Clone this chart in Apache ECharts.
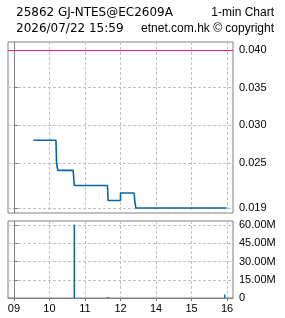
<!DOCTYPE html>
<html>
<head>
<meta charset="utf-8">
<script src="https://cdn.jsdelivr.net/npm/echarts@6/dist/echarts.min.js"></script>
<style>
  html, body { margin: 0; padding: 0; background: #fff; }
  #chart { width: 285px; height: 318px; }
</style>
</head>
<body>
<div id="chart"></div>
<script>
// 价格 (1分钟)
var priceTimes = ['09:33', '10:11', '10:12', '10:14', '10:40', '10:42', '11:38', '11:39', '12:00', '13:00', '13:23', '13:24', '13:26', '15:59'];
var priceValues = [0.028, 0.028, 0.025, 0.024, 0.024, 0.022, 0.022, 0.020, 0.020, 0.021, 0.021, 0.020, 0.019, 0.019];
var prevClose = 0.040;

// 成交量
var volTimes = ['10:42', '11:39', '15:56'];
var volValues = [60.5e6, 0.9e6, 2.8e6];

// 刻度
var priceTicks = [0.019, 0.025, 0.030, 0.035, 0.040];
var volTicks = [0, 15e6, 30e6, 45e6, 60e6];
var hourTicks = ['09:00', '10:00', '11:00', '12:00', '14:00', '15:00', '16:00'];

var FONT = 'Liberation Sans';
var GRID_COLOR = '#808080';
var LINE_COLOR = '#0b66a3';

// 午休压缩: 12:00-13:00 不占位置
function toX(t) {
    var h = parseInt(t.slice(0, 2), 10);
    var m = parseInt(t.slice(3, 5), 10);
    var v = h * 60 + m - 540;
    if (h >= 13) v -= 60;
    return v;
}

function hourLabel(v) {
    var h = v <= 180 ? 9 + v / 60 : 10 + v / 60;
    h = Math.round(h);
    return (h < 10 ? '0' : '') + h;
}

function titleStyle(family) {
    return { fontFamily: family, fontSize: 12, fontWeight: 'normal', color: '#000' };
}

var priceData = priceTimes.map(function(t, i) { return [toX(t), priceValues[i]]; });
var volData = volTimes.map(function(t, i) { return [toX(t), volValues[i]]; });
var hourValues = hourTicks.map(toX);

var splitLine = { show: true, lineStyle: { color: '#c0c0c0', type: [3, 2], width: 1 } };

var myChart = echarts.init(document.getElementById('chart'), null, { renderer: 'canvas' });

var option = {
    animation: false,
    backgroundColor: '#fff',
    title: [
        { text: '25862 GJ-NTES@EC2609A', left: 11, top: 2, textStyle: titleStyle('DejaVu Sans') },
        { text: '1-min Chart', right: 6, top: 2, textStyle: titleStyle('Liberation Sans') },
        { text: '2026/07/22 15:59', left: 11, top: 18, textStyle: titleStyle('DejaVu Sans') },
        { text: 'etnet.com.hk © copyright', right: 6, top: 18, textStyle: titleStyle('Liberation Sans') }
    ],
    grid: [
        { left: 8, right: 52, top: 42, height: 171, show: true, borderColor: GRID_COLOR, borderWidth: 1 },
        { left: 8, right: 52, top: 221, height: 77, show: true, borderColor: GRID_COLOR, borderWidth: 1 }
    ],
    xAxis: [
        {
            type: 'value', gridIndex: 0, min: -10, max: 370,
            axisLine: { show: false },
            axisTick: { show: false, customValues: hourValues },
            axisLabel: { show: false, customValues: hourValues },
            splitLine: splitLine
        },
        {
            type: 'value', gridIndex: 1, min: -10, max: 370,
            axisLine: { show: true, lineStyle: { color: GRID_COLOR } },
            axisTick: { show: true, length: 3, customValues: hourValues, lineStyle: { color: GRID_COLOR } },
            axisLabel: {
                customValues: hourValues, margin: 5,
                fontFamily: FONT, fontSize: 11, color: '#000',
                formatter: hourLabel
            },
            splitLine: splitLine
        }
    ],
    yAxis: [
        {
            type: 'value', gridIndex: 0, position: 'right',
            min: 0.01834, max: 0.04106,
            axisLine: { show: true, lineStyle: { color: GRID_COLOR } },
            axisTick: { show: true, length: 4, customValues: priceTicks, lineStyle: { color: GRID_COLOR } },
            axisLabel: {
                customValues: priceTicks, margin: 6,
                fontFamily: FONT, fontSize: 11, color: '#000',
                formatter: function(v) { return v.toFixed(3); }
            },
            splitLine: splitLine
        },
        {
            type: 'value', gridIndex: 1, position: 'right',
            min: 0, max: 63.5e6,
            axisLine: { show: true, lineStyle: { color: GRID_COLOR } },
            axisTick: { show: true, length: 4, customValues: volTicks, lineStyle: { color: GRID_COLOR } },
            axisLabel: {
                customValues: volTicks, margin: 6,
                fontFamily: FONT, fontSize: 11, color: '#000',
                formatter: function(v) { return v === 0 ? '0' : (v / 1e6).toFixed(2) + 'M'; }
            },
            splitLine: splitLine
        }
    ],
    series: [
        {
            type: 'line', xAxisIndex: 0, yAxisIndex: 0,
            data: priceData,
            showSymbol: false,
            lineStyle: { color: LINE_COLOR, width: 1.6 },
            markLine: {
                silent: true, symbol: 'none', label: { show: false },
                lineStyle: { color: '#ff1a7a', width: 1, type: 'solid' },
                data: [{ yAxis: prevClose }]
            }
        },
        {
            type: 'bar', xAxisIndex: 1, yAxisIndex: 1,
            data: volData,
            barWidth: 1.5,
            itemStyle: { color: LINE_COLOR }
        }
    ]
};

myChart.setOption(option);
</script>
</body>
</html>
